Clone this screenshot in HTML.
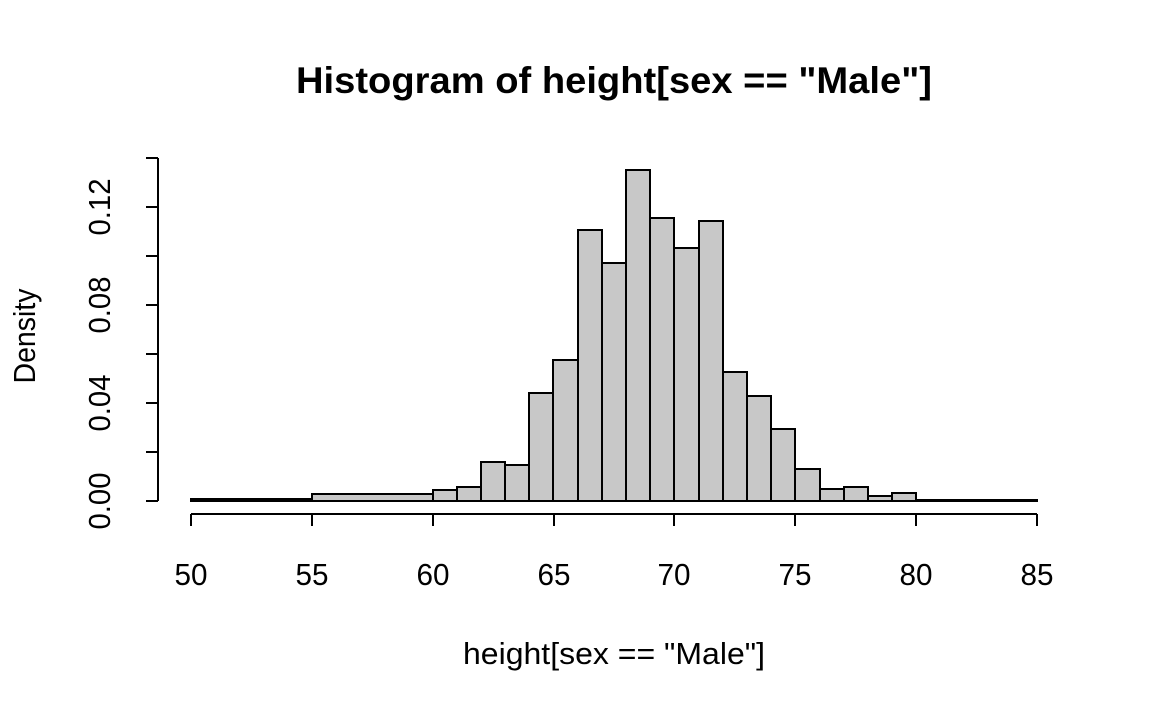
<!DOCTYPE html>
<html><head><style>body{margin:0;background:#fff}</style></head><body>
<svg width="1152" height="711" xmlns="http://www.w3.org/2000/svg" font-family="Liberation Sans, Arial, sans-serif">
<rect width="1152" height="711" fill="#fff"/>
<text x="614" y="93" font-size="37" font-weight="bold" text-anchor="middle" textLength="636" lengthAdjust="spacingAndGlyphs">Histogram of height[sex == "Male"]</text>
<g fill="#c8c8c8" stroke="#000" stroke-width="2">
<rect x="191" y="499" width="121" height="2"/>
<rect x="312" y="494" width="121" height="7"/>
<rect x="433" y="490" width="24" height="11"/>
<rect x="457" y="487" width="24" height="14"/>
<rect x="481" y="462" width="24" height="39"/>
<rect x="505" y="465" width="24" height="36"/>
<rect x="529" y="393" width="24" height="108"/>
<rect x="553" y="360" width="25" height="141"/>
<rect x="578" y="230" width="24" height="271"/>
<rect x="602" y="263" width="24" height="238"/>
<rect x="626" y="170" width="24" height="331"/>
<rect x="650" y="218" width="24" height="283"/>
<rect x="674" y="248" width="25" height="253"/>
<rect x="699" y="221" width="24" height="280"/>
<rect x="723" y="372" width="24" height="129"/>
<rect x="747" y="396" width="24" height="105"/>
<rect x="771" y="429" width="24" height="72"/>
<rect x="795" y="469" width="25" height="32"/>
<rect x="820" y="489" width="24" height="12"/>
<rect x="844" y="487" width="24" height="14"/>
<rect x="868" y="496" width="24" height="5"/>
<rect x="892" y="493" width="24" height="8"/>
<rect x="916" y="500" width="121" height="1"/>
</g>
<g stroke="#000" stroke-width="2" fill="none">
<line x1="191" y1="514" x2="1037" y2="514"/>
<line x1="191" y1="514" x2="191" y2="526"/><line x1="312" y1="514" x2="312" y2="526"/><line x1="433" y1="514" x2="433" y2="526"/><line x1="554" y1="514" x2="554" y2="526"/><line x1="674" y1="514" x2="674" y2="526"/><line x1="795" y1="514" x2="795" y2="526"/><line x1="916" y1="514" x2="916" y2="526"/><line x1="1037" y1="514" x2="1037" y2="526"/>
<line x1="158" y1="158" x2="158" y2="501"/>
<line x1="146" y1="501" x2="158" y2="501"/><line x1="146" y1="452" x2="158" y2="452"/><line x1="146" y1="403" x2="158" y2="403"/><line x1="146" y1="354" x2="158" y2="354"/><line x1="146" y1="305" x2="158" y2="305"/><line x1="146" y1="256" x2="158" y2="256"/><line x1="146" y1="207" x2="158" y2="207"/><line x1="146" y1="158" x2="158" y2="158"/>
</g>
<g font-size="31" text-anchor="middle">
<text x="191" y="585" textLength="33" lengthAdjust="spacingAndGlyphs">50</text><text x="312" y="585" textLength="33" lengthAdjust="spacingAndGlyphs">55</text><text x="433" y="585" textLength="33" lengthAdjust="spacingAndGlyphs">60</text><text x="554" y="585" textLength="33" lengthAdjust="spacingAndGlyphs">65</text><text x="674" y="585" textLength="33" lengthAdjust="spacingAndGlyphs">70</text><text x="795" y="585" textLength="33" lengthAdjust="spacingAndGlyphs">75</text><text x="916" y="585" textLength="33" lengthAdjust="spacingAndGlyphs">80</text><text x="1037" y="585" textLength="33" lengthAdjust="spacingAndGlyphs">85</text>
<text transform="translate(110,501) rotate(-90)" textLength="57" lengthAdjust="spacingAndGlyphs">0.00</text>
<text transform="translate(110,403) rotate(-90)" textLength="57" lengthAdjust="spacingAndGlyphs">0.04</text>
<text transform="translate(110,305) rotate(-90)" textLength="57" lengthAdjust="spacingAndGlyphs">0.08</text>
<text transform="translate(110,207) rotate(-90)" textLength="57" lengthAdjust="spacingAndGlyphs">0.12</text>
<text x="614" y="664" textLength="302" lengthAdjust="spacingAndGlyphs">height[sex == "Male"]</text>
<text transform="translate(35,336) rotate(-90)" textLength="95" lengthAdjust="spacingAndGlyphs">Density</text>
</g>
</svg>
</body></html>
